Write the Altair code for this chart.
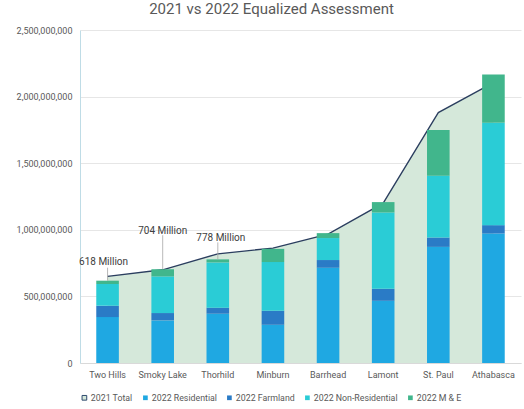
import altair as alt
import pandas as pd

categories = ["Two Hills", "Smoky Lake", "Thorhild", "Minburn", "Barrhead", "Lamont", "St. Paul", "Athabasca"]
total_2021 = [650, 700, 820, 863, 968, 1200, 1880, 2105]  # millions
residential = [345, 320, 370, 287, 715, 467, 872, 972]
farmland = [85, 55, 45, 105, 58, 90, 70, 63]
non_residential = [163, 275, 340, 366, 165, 573, 463, 768]
m_and_e = [25, 54, 23, 99, 37, 78, 345, 362]
label_cats = ["Two Hills", "Smoky Lake", "Thorhild"]
label_texts = ["618 Million", "704 Million", "778 Million"]

series_names = ["2022 Residential", "2022 Farmland", "2022 Non-Residential", "2022 M & E"]
series_values = [residential, farmland, non_residential, m_and_e]
legend_domain = ["2021 Total"] + series_names
legend_colors = ["#D5E8DA", "#1FA8E2", "#2A7BC6", "#2ACCD6", "#41B68C"]

M = 1_000_000
rows = []
for s_i, (name, vals) in enumerate(zip(series_names, series_values)):
    for c, v in zip(categories, vals):
        rows.append({"cat": c, "series": name, "value": v * M, "order": s_i})
bars_df = pd.DataFrame(rows)

totals_2022 = [sum(x) for x in zip(*series_values)]
line_df = pd.DataFrame({"cat": categories, "total": [t * M for t in total_2021],
                        "series": ["2021 Total"] * len(categories)})
lab_df = pd.DataFrame({
    "cat": label_cats,
    "text": label_texts,
    "top": [totals_2022[categories.index(c)] * M for c in label_cats],
})

# label style offsets (pixels): (dx, dy of text centre, leader length)
label_style = {"Two Hills": (-4, -19, 13), "Smoky Lake": (0, -38, 34), "Thorhild": (3, -21, 17)}

x_enc = alt.X("cat:N", sort=categories, title=None,
              scale=alt.Scale(paddingInner=0.59, paddingOuter=0.295),
              axis=alt.Axis(labelAngle=0, ticks=False, labelPadding=7, domainColor="#D9D9D9"))
y_scale = alt.Scale(domain=[0, 2_500_000_000], nice=False)
y_axis = alt.Axis(values=[0, 500_000_000, 1_000_000_000, 1_500_000_000, 2_000_000_000, 2_500_000_000],
                  format=",.0f", ticks=False, labelPadding=8, domainColor="#BFDCE6",
                  gridColor="#E6E6E6", title=None)

color_scale = alt.Scale(domain=legend_domain, range=legend_colors)
legend = alt.Legend(
    title=None, orient="bottom", direction="horizontal", symbolType="square",
    symbolSize=22, columnPadding=8, labelOffset=2, offset=14,
    symbolStrokeWidth=1,
    symbolStrokeColor={"expr": "datum && datum.label === '2021 Total' ? '#2E4A6E' : 'transparent'"},
)

area = alt.Chart(line_df).mark_area(opacity=1).encode(
    x=x_enc,
    y=alt.Y("total:Q", scale=y_scale, axis=y_axis),
    color=alt.Color("series:N", scale=color_scale, legend=legend),
)
line = alt.Chart(line_df).mark_line(color="#2B3E5F", strokeWidth=1.3).encode(
    x=alt.X("cat:N", sort=categories),
    y=alt.Y("total:Q"),
)
bars = alt.Chart(bars_df).mark_bar().encode(
    x=alt.X("cat:N", sort=categories),
    y=alt.Y("value:Q", stack="zero"),
    color=alt.Color("series:N", scale=color_scale, legend=legend),
    order=alt.Order("order:Q"),
)

layers = [area, line, bars]
for c in label_cats:
    dx, dy, lead = label_style[c]
    sub = alt.Chart(lab_df).transform_filter(alt.datum.cat == c)
    layers.append(sub.mark_rule(color="#A6A6A6", strokeWidth=0.8, y2Offset=-lead).encode(
        x=alt.X("cat:N", sort=categories), y="top:Q", y2="top:Q"))
    layers.append(sub.mark_text(dx=dx, dy=dy, fontSize=10, color="#404040", font="Roboto").encode(
        x=alt.X("cat:N", sort=categories), y="top:Q", text="text:N"))

chart = alt.layer(*layers).resolve_scale(y="shared").properties(
    width=441, height=333,
    title=alt.Title("2021 vs 2022 Equalized Assessment", fontSize=15, color="#595959",
                    font="Roboto", fontWeight="normal", dx=-29, offset=9),
    autosize=alt.AutoSizeParams(type="none"),
    padding={"left": 80, "top": 30, "right": 3, "bottom": 46},
).configure_view(stroke=None).configure_axis(
    labelFont="Roboto", labelFontSize=9, labelColor="#595959",
).configure_legend(labelFont="Roboto", labelFontSize=8.8, labelColor="#595959")

chart.save("out.html", embed_options={"renderer": "svg", "actions": False})
